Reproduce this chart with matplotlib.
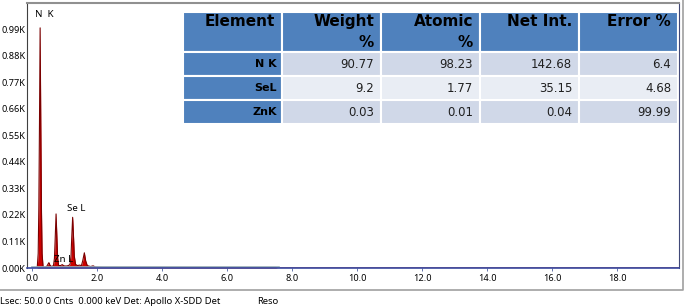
import numpy as np
import matplotlib
matplotlib.use("Agg")
import matplotlib.pyplot as plt
from matplotlib.lines import Line2D

# spectrum (keV, counts)
energy = [0.00, 0.16, 0.19, 0.21, 0.23, 0.25, 0.27, 0.29, 0.31, 0.34, 0.40, 0.46,
          0.50, 0.52, 0.55, 0.60, 0.66, 0.69, 0.71, 0.74, 0.77, 0.79, 0.82, 0.88,
          0.93, 0.98, 1.05, 1.12, 1.17, 1.20, 1.22, 1.25, 1.28, 1.30, 1.34, 1.40,
          1.46, 1.52, 1.56, 1.61, 1.65, 1.70, 1.80, 1.88, 1.95, 2.20, 7.50, 7.55, 20.0]
counts = [0, 0, 60, 250, 600, 995, 600, 250, 60, 5, 3, 8,
          18, 22, 12, 6, 10, 40, 110, 224, 110, 40, 10, 10,
          14, 9, 8, 10, 15, 50, 120, 210, 120, 50, 15, 10,
          12, 10, 30, 63, 30, 10, 6, 9, 4, 3, 2, 0, 0]

yticks = [0, 110, 220, 330, 440, 550, 660, 770, 880, 990]
xticks = [0, 2, 4, 6, 8, 10, 12, 14, 16, 18]

peak_labels = ["N  K", "Se L", "Zn L"]
peak_pos = [(0.08, 1030), (1.07, 228), (0.68, 18)]

col_labels = ["Element", "Weight\n%", "Atomic\n%", "Net Int.", "Error %"]
elements = ["N K", "SeL", "ZnK"]
weight = [90.77, 9.2, 0.03]
atomic = [98.23, 1.77, 0.01]
net_int = [142.68, 35.15, 0.04]
error = [6.4, 4.68, 99.99]

footer = "Lsec: 50.0 0 Cnts  0.000 keV Det: Apollo X-SDD Det"

fig = plt.figure(figsize=(6.85, 3.08), dpi=100)
W, H = 685, 308
ax = fig.add_axes([27 / W, 1 - 268 / H, 652 / W, 265 / H])

e = np.array(energy)
c = np.array(counts)
ax.fill_between(e, 0, c, color="#cc0000", linewidth=0)
ax.plot(e, c, color="#7a0000", linewidth=0.8)
ax.plot([0, 7.6], [6, 6], color="#9ab0b8", linewidth=1.2)

ax.set_xlim(-0.154, 19.9)
ax.set_ylim(0, 1098)
ax.set_xticks(xticks)
ax.set_xticklabels(["%.1f" % v for v in xticks])
ax.set_yticks(yticks)
ax.set_yticklabels(["%.2fK" % (v / 1000) for v in yticks])
ax.tick_params(axis="both", length=2, width=0.6, color="#5060a0",
               labelsize=6.6, pad=2)
ax.tick_params(axis="y", length=0, pad=1)
for lab in ax.get_xticklabels() + ax.get_yticklabels():
    lab.set_family("Noto Sans")

ax.spines["left"].set_color("#404040")
ax.spines["top"].set_color("#909090")
ax.spines["top"].set_linewidth(1.5)
ax.spines["right"].set_color("#404878")
ax.spines["bottom"].set_color("#3848a0")
ax.spines["bottom"].set_linewidth(1.2)

for lab, (px, py) in zip(peak_labels, peak_pos):
    ax.text(px, py, lab, fontsize=7, family="Noto Sans", va="bottom", ha="left")

# table
rows = []
for i in range(len(elements)):
    rows.append([elements[i], "%g" % weight[i], "%g" % atomic[i],
                 "%g" % net_int[i], "%g" % error[i]])
tbl = ax.table(cellText=rows, colLabels=col_labels, cellLoc="right", colLoc="right",
               bbox=[156 / 652, (268 - 124) / 265, 495 / 652, 112 / 265])
tbl.auto_set_font_size(False)
row_fill = ["#d0d8e8", "#e9edf4", "#d0d8e8"]
for (r, col), cell in tbl.get_celld().items():
    cell.set_edgecolor("white")
    cell.set_linewidth(1.5)
    cell.PAD = 0.07
    txt = cell.get_text()
    txt.set_family("DejaVu Sans")
    if r == 0:
        cell.set_height(40 / 24 * cell.get_height())
        cell.set_facecolor("#4f81bd")
        if "\n" not in txt.get_text():
            txt.set_text(txt.get_text() + "\n ")
        txt.set_fontsize(11)
        txt.set_fontweight("bold")
        txt.set_linespacing(1.45)
        txt.set_multialignment("right")
    elif col == 0:
        cell.set_facecolor("#4f81bd")
        cell.PAD = 0.05
        txt.set_fontsize(8)
        txt.set_fontweight("bold")
    else:
        cell.set_facecolor(row_fill[r - 1])
        txt.set_fontsize(8.5)
        txt.set_color("#202020")

# outer frame
fig.add_artist(Line2D([0, 683 / W, 683 / W], [1 - 289.5 / H, 1 - 289.5 / H, 1],
                      color="#a0a0a0", linewidth=1.2))

fig.text(0.5 / W, 1 - 301 / H, footer, fontsize=6.8, family="Noto Sans", va="center")
fig.text(257 / W, 1 - 301 / H, "Reso", fontsize=6.8, family="Noto Sans", va="center")

fig.savefig("out.png", dpi=100)
